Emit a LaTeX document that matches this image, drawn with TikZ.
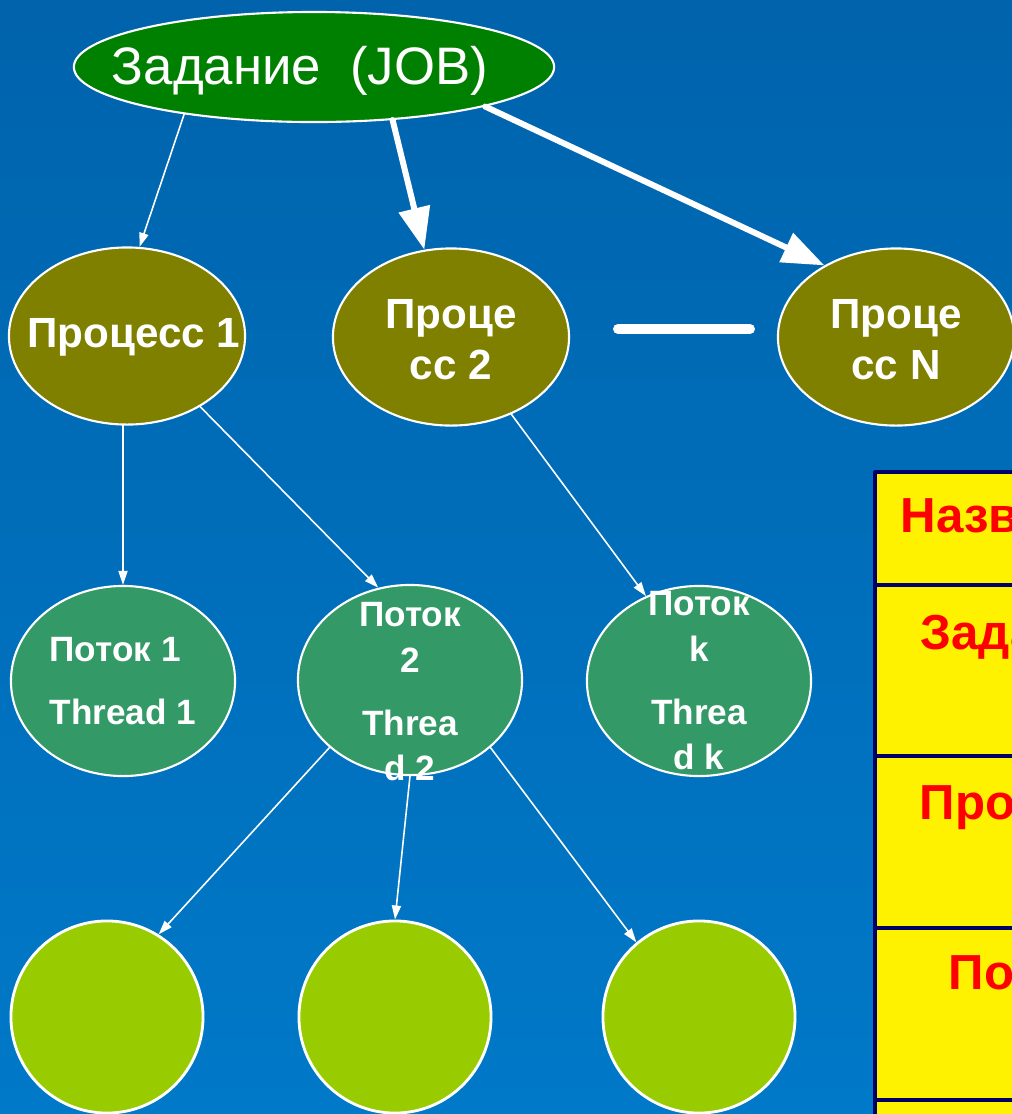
\documentclass[tikz,border=0pt]{standalone}
\usepackage{fontspec}
\setmainfont{Liberation Sans}
\usetikzlibrary{arrows.meta,shapes.geometric}
\definecolor{bgtop}{RGB}{0,99,172}
\definecolor{bgbot}{RGB}{0,121,200}
\definecolor{jobgreen}{RGB}{0,128,0}
\definecolor{procolive}{RGB}{128,128,0}
\definecolor{threadgreen}{RGB}{51,153,102}
\definecolor{leafgreen}{RGB}{153,204,0}
\definecolor{tabnavy}{RGB}{0,0,102}
\tikzset{
	jobshape/.style={ellipse,draw=white,line width=0.6pt,fill=jobgreen,minimum width=4.8cm,minimum height=1.1cm,inner sep=0pt},
	procshape/.style={ellipse,draw=white,line width=0.6pt,fill=procolive,minimum width=2.36cm,minimum height=1.77cm,inner sep=0pt},
	threadshape/.style={ellipse,draw=white,line width=0.6pt,fill=threadgreen,minimum width=2.24cm,minimum height=1.9cm,inner sep=0pt},
	leafshape/.style={circle,draw=white,line width=0.8pt,fill=leafgreen,minimum size=1.92cm,inner sep=0pt},
	jobtxt/.style={text=white,font=\fontsize{15}{18}\selectfont,inner sep=0pt},
	proctxt/.style={text=white,font=\fontsize{12}{14.5}\selectfont\bfseries,align=center,inner sep=0pt},
	threadtxt/.style={text=white,font=\fontsize{10}{13}\selectfont\bfseries,inner sep=0pt},
	tabtxt/.style={text=red,font=\fontsize{14}{16}\selectfont\bfseries,anchor=base west,inner sep=0pt},
	smallarrow/.style={white,line width=0.45pt,-{Triangle[length=4pt,width=2.6pt]}},
	bigarrow/.style={white,line width=1.7pt,-{Triangle[length=12pt,width=8.8pt]}}
}
\begin{document}
\begin{tikzpicture}[line cap=round,line join=round,x=0.01cm,y=-0.01cm]
		\useasboundingbox (0,0) rectangle (1012,1114);
		\clip (0,0) rectangle (1012,1114);
		\shade[top color=bgtop,bottom color=bgbot] (0,0) rectangle (1012,1114);
		% job and processes
		\node[jobshape] (job) at (314,67) {};
		\node[jobtxt] (jobt) at (300,71) {Задание~~(JOB)};
		\node[procshape] (P1) at (127,336) {};
		\node[proctxt] (P1t) at (134,337) {Процесс 1};
		\node[procshape] (P2) at (451,337) {};
		\node[proctxt] (P2t) at (451,340) {Проце\\сс 2};
		\node[procshape] (PN) at (896,337) {};
		\node[proctxt] (PNt) at (896,340) {Проце\\сс N};
		\draw[white,line width=2.85pt] (618,329) -- (750,329);
		% threads
		\node[threadshape] (T1) at (123,681) {};
		\node[threadtxt,align=left] (T1t) at (T1) {Поток 1\\[4.8pt]Thread 1};
		\node[threadshape] (T2) at (410,680) {};
		\node[threadtxt,align=center] (T2t) at (410,692) {Поток\\2\\[4.8pt]Threa\\d 2};
		\node[threadshape] (Tk) at (699,681) {};
		\node[threadtxt,align=center] (Tkt) at (Tk) {Поток\\k\\[4.8pt]Threa\\d k};
		% leaves
		\node[leafshape] (C1) at (107,1017) {};
		\node[leafshape] (C2) at (395,1017) {};
		\node[leafshape] (C3) at (699,1017) {};
		% connectors
		\draw[smallarrow] (job.-160) -- (P1.82);
		\draw[bigarrow] (job.-34) -- (P2.107);
		\draw[bigarrow] (job.-13) -- (PN.135);
		\draw[smallarrow] (P1.south -| T1.north) -- (T1.north);
		\draw[smallarrow] (P1.-44) -- (T2.109);
		\draw[smallarrow] (P2.-52) -- (Tk.122);
		\draw[smallarrow] (T2.220) -- (C1.58);
		\draw[smallarrow] (T2.south) -- (C2.north);
		\draw[smallarrow] (T2.-40) -- (C3.130);
		% table
		\draw[tabnavy,line width=0.9pt,fill=yellow] (875,472) rectangle (1040,1140);
		\draw[tabnavy,line width=0.9pt] (875,585) -- (1040,585);
		\draw[tabnavy,line width=0.9pt] (875,756) -- (1040,756);
		\draw[tabnavy,line width=0.9pt] (875,928) -- (1040,928);
		\draw[tabnavy,line width=0.9pt] (875,1100) -- (1040,1100);
		\node[tabtxt] (r0) at (900,532) {Название};
		\node[tabtxt] (r1) at (920,649) {Задание};
		\node[tabtxt] (r2) at (919,819) {Процесс};
		\node[tabtxt] (r3) at (948,989) {Поток};
	\end{tikzpicture}
\end{document}
